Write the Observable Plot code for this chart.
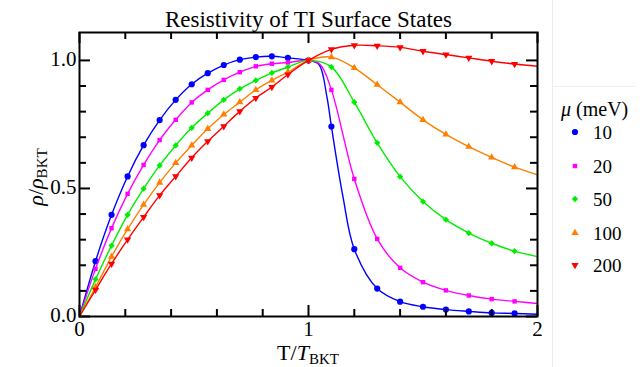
<!DOCTYPE html>
<html><head><meta charset="utf-8">
<script src="https://cdn.jsdelivr.net/npm/d3@7"></script>
<script src="https://cdn.jsdelivr.net/npm/@observablehq/plot@0.6"></script>
<style>
body{margin:0;background:#fff;}
#wrap{position:relative;width:644px;height:367px;overflow:hidden;}
#wrap svg{position:absolute;left:0;top:0;}
.vline{position:absolute;left:552px;top:0;width:0;height:367px;border-left:1px solid #ececec;}
.hline{position:absolute;left:552px;top:86px;width:84px;height:0;border-top:1px solid #f0f0f0;}
</style></head>
<body><div id="wrap"><div class="vline"></div><div class="hline"></div></div>
<script>
// ---- data ----
const T = [0, 0.07,0.14,0.21,0.28,0.35,0.42,0.49,0.56,0.63,0.70,0.77,0.84,0.91, 1.0, 1.1,1.2,1.3,1.4,1.5,1.6,1.7,1.8,1.9, 2.0];
const rho10  = [0, 0.216,0.397,0.547,0.669,0.767,0.846,0.907,0.950,0.982,1.003,1.013,1.016,1.010, 1.0, 0.742,0.263,0.109,0.058,0.038,0.027,0.020,0.014,0.012, 0.009];
const rho20  = [0, 0.186,0.345,0.479,0.592,0.689,0.768,0.836,0.885,0.924,0.954,0.977,0.987,0.992, 1.0, 0.885,0.537,0.303,0.190,0.134,0.102,0.082,0.068,0.059, 0.051];
const rho50  = [0, 0.145,0.277,0.397,0.499,0.590,0.668,0.737,0.794,0.846,0.889,0.922,0.951,0.974, 1.0, 0.974,0.837,0.678,0.546,0.449,0.378,0.326,0.286,0.255, 0.234];
const rho100 = [0, 0.115,0.234,0.341,0.437,0.523,0.600,0.668,0.733,0.789,0.837,0.885,0.922,0.954, 1.0, 1.013,0.971,0.905,0.837,0.768,0.711,0.663,0.621,0.583, 0.553];
const rho200 = [0, 0.104,0.206,0.300,0.388,0.473,0.547,0.620,0.684,0.743,0.801,0.853,0.896,0.945, 1.0, 1.043,1.059,1.057,1.051,1.036,1.023,1.010,0.997,0.986, 0.977];
// extra curve points (line only) read near the sharp drop
const kneeT10 = [1.045, 1.08, 1.15];
const knee10  = [0.985, 0.86, 0.47];
const kneeT20 = [1.05];
const knee20  = [0.985];
const muLabels = ["10", "20", "50", "100", "200"];
const xTicks = [0, 1, 2];
const yTicks = [0, 0.5, 1.0];
const xMinor = [0.2,0.4,0.6,0.8,1.2,1.4,1.6,1.8];
const yMinor = [0.1,0.2,0.3,0.4,0.6,0.7,0.8,0.9];
const title = "Resistivity of TI Surface States";

// ---- layout ----
const W = 644, H = 367;
const margin = {top: 32, right: 107, bottom: 51, left: 79};
const frameW = W - margin.left - margin.right;
const frameH = H - margin.top - margin.bottom;
const fam = "'Liberation Serif','Times New Roman',serif";

const rows = (ts, vs) => ts.map((t, i) => ({T: t, v: vs[i]}));
const series = [
  {label: muLabels[0], vals: rho10,  kT: kneeT10, kV: knee10, color: "#0000ff", symbol: "circle",   r: 3.1, rotate: 0},
  {label: muLabels[1], vals: rho20,  kT: kneeT20, kV: knee20, color: "#ff00ff", symbol: "square",   r: 2.5, rotate: 0},
  {label: muLabels[2], vals: rho50,  kT: [], kV: [], color: "#00ee00", symbol: "square",   r: 2.5, rotate: 45},
  {label: muLabels[3], vals: rho100, kT: [], kV: [], color: "#ff8000", symbol: "triangle", r: 2.7, rotate: 0},
  {label: muLabels[4], vals: rho200, kT: [], kV: [], color: "#ff0000", symbol: "triangle", r: 2.7, rotate: 180}
];

const marks = [];
for (const s of series) {
  const lr = rows(T, s.vals).concat(rows(s.kT, s.kV)).sort((a, b) => a.T - b.T);
  marks.push(Plot.line(lr, {x: "T", y: "v", stroke: s.color, strokeWidth: 1.4, curve: "catmull-rom"}));
  const pts = rows(T, s.vals).filter(d => d.T > 0 && d.T < 2);
  marks.push(Plot.dot(pts, {x: "T", y: "v", fill: s.color, stroke: "none", symbol: s.symbol, r: s.r, rotate: s.rotate}));
}
// ticks on all four sides, pointing inward
const majL = 11, minL = 7;
marks.push(
  Plot.tickX(xTicks, {x: d => d, insetTop: frameH - majL, strokeWidth: 2, stroke: "#000"}),
  Plot.tickX(xTicks, {x: d => d, insetBottom: frameH - majL, strokeWidth: 2, stroke: "#000"}),
  Plot.tickX(xMinor, {x: d => d, insetTop: frameH - minL, strokeWidth: 2, stroke: "#000"}),
  Plot.tickX(xMinor, {x: d => d, insetBottom: frameH - minL, strokeWidth: 2, stroke: "#000"}),
  Plot.tickY(yTicks, {y: d => d, insetRight: frameW - majL, strokeWidth: 2, stroke: "#000"}),
  Plot.tickY(yTicks, {y: d => d, insetLeft: frameW - majL, strokeWidth: 2, stroke: "#000"}),
  Plot.tickY(yMinor, {y: d => d, insetRight: frameW - minL, strokeWidth: 2, stroke: "#000"}),
  Plot.tickY(yMinor, {y: d => d, insetLeft: frameW - minL, strokeWidth: 2, stroke: "#000"}),
  Plot.frame({stroke: "#000", strokeWidth: 2}),
  Plot.text(xTicks, {x: d => d, text: d => String(d), frameAnchor: "bottom", lineAnchor: "top", dy: 5, fontSize: 21, fill: "#000"}),
  Plot.text(yTicks, {y: d => d, text: d => d.toFixed(1), frameAnchor: "left", textAnchor: "end", dx: -3, dy: -1, fontSize: 21, fill: "#000"}),
  Plot.text([title], {frameAnchor: "top", lineAnchor: "bottom", dy: -6, fontSize: 23, fill: "#000"})
);

const chart = Plot.plot({
  width: W, height: H,
  marginTop: margin.top, marginRight: margin.right, marginBottom: margin.bottom, marginLeft: margin.left,
  x: {domain: [0, 2], axis: null},
  y: {domain: [0, 1.109], axis: null},
  style: {fontFamily: fam, background: "transparent", color: "#000", overflow: "visible"},
  marks
});
document.getElementById("wrap").appendChild(chart);

// axis titles with subscripts
const svg = d3.select(chart);
const xs = chart.scale("x"), ys = chart.scale("y");
const xl = svg.append("text").attr("x", xs.apply(1)).attr("y", 360).attr("text-anchor", "middle")
  .attr("font-size", 22).attr("font-family", fam).attr("fill", "#000");
xl.append("tspan").text("T/");
xl.append("tspan").attr("font-style", "italic").text("T");
xl.append("tspan").attr("font-size", 15).attr("dy", 4).text("BKT");
const yc = (ys.apply(0) + ys.apply(1.109)) / 2 + 3;
const yl = svg.append("text").attr("transform", `translate(43,${yc}) rotate(-90)`).attr("text-anchor", "middle")
  .attr("font-size", 22).attr("font-family", fam).attr("fill", "#000");
yl.append("tspan").attr("font-style", "italic").text("ρ");
yl.append("tspan").text("/");
yl.append("tspan").attr("font-style", "italic").text("ρ");
yl.append("tspan").attr("font-size", 15).attr("dy", 4).text("BKT");

// legend (in the right margin)
const lg = svg.append("g").attr("font-family", fam).attr("fill", "#000").attr("text-anchor", "start");
const lh = lg.append("text").attr("x", 561).attr("y", 116).attr("font-size", 20).attr("text-anchor", "start");
lh.append("tspan").attr("font-style", "italic").text("μ");
lh.append("tspan").text(" (meV)");
const legendY = [132, 166, 199, 233, 265];
series.forEach((s, i) => {
  const size = Math.PI * s.r * s.r;
  const typ = {circle: d3.symbolCircle, square: d3.symbolSquare, triangle: d3.symbolTriangle}[s.symbol];
  lg.append("path").attr("d", d3.symbol(typ, size)())
    .attr("transform", `translate(575,${legendY[i]}) rotate(${s.rotate})`).attr("fill", s.color);
  lg.append("text").attr("x", 593).attr("y", legendY[i] + 7).attr("font-size", 19)
    .attr("text-anchor", "start").text(s.label);
});
</script>
</body></html>
